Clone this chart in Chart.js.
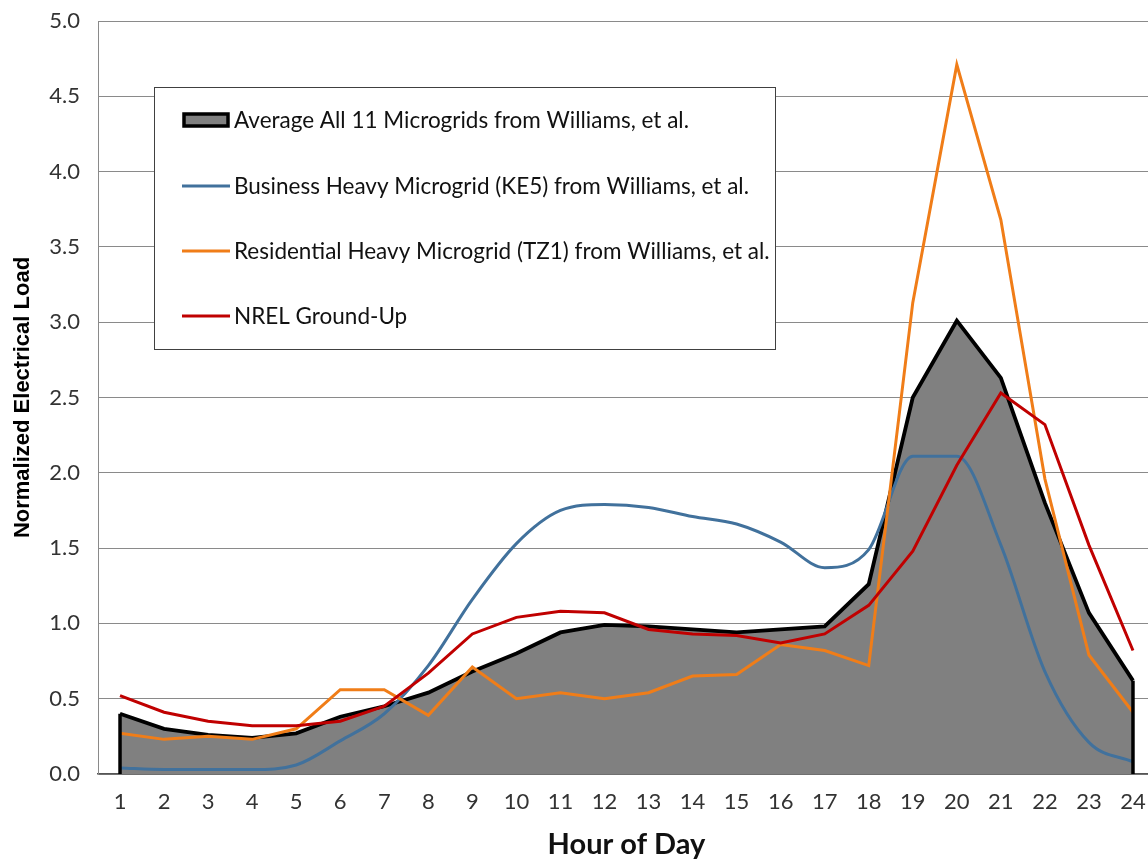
<!DOCTYPE html>
<html>
<head>
<meta charset="utf-8">
<script src="https://cdn.jsdelivr.net/npm/chart.js@4.4.1/dist/chart.umd.min.js"></script>
<style>
html,body{margin:0;padding:0;background:#fff;overflow:hidden;}
canvas{display:block;}
</style>
</head>
<body>
<canvas id="c" width="1156" height="859"></canvas>
<script>
const hours = ["1","2","3","4","5","6","7","8","9","10","11","12","13","14","15","16","17","18","19","20","21","22","23","24"];
const averageAll = [0.40,0.30,0.26,0.24,0.27,0.38,0.45,0.54,0.68,0.80,0.94,0.99,0.98,0.96,0.94,0.96,0.98,1.26,2.50,3.01,2.63,1.80,1.07,0.62];
const businessKE5 = [0.04,0.03,0.03,0.03,0.06,0.22,0.40,0.72,1.16,1.53,1.75,1.79,1.77,1.71,1.66,1.54,1.37,1.49,2.11,2.11,1.52,0.68,0.21,0.08];
const residentialTZ1 = [0.27,0.23,0.25,0.23,0.30,0.56,0.56,0.39,0.71,0.50,0.54,0.50,0.54,0.65,0.66,0.86,0.82,0.72,3.13,4.71,3.68,1.96,0.79,0.41];
const nrelGroundUp = [0.52,0.41,0.35,0.32,0.32,0.35,0.45,0.67,0.93,1.04,1.08,1.07,0.96,0.93,0.92,0.87,0.93,1.12,1.48,2.05,2.53,2.32,1.52,0.82];
const seriesNames = [
  "Average All 11 Microgrids from Williams, et al.",
  "Business Heavy Microgrid (KE5) from Williams, et al.",
  "Residential Heavy Microgrid (TZ1) from Williams, et al.",
  "NREL Ground-Up"
];
const yTicks = [0,0.5,1,1.5,2,2.5,3,3.5,4,4.5,5];

const FONT = "Lato, 'Open Sans', sans-serif";

const areaEdges = {
  id: 'areaEdges',
  afterDatasetsDraw(chart) {
    const meta = chart.getDatasetMeta(0);
    const ctx = chart.ctx;
    const base = chart.scales.y.getPixelForValue(0);
    const pts = meta.data;
    ctx.save();
    ctx.strokeStyle = '#000';
    ctx.lineWidth = 3.5;
    [pts[0], pts[pts.length-1]].forEach(p => {
      ctx.beginPath();
      ctx.moveTo(p.x, p.y);
      ctx.lineTo(p.x, base);
      ctx.stroke();
    });
    ctx.restore();
  }
};

const boxLegend = {
  id: 'boxLegend',
  afterDraw(chart) {
    const ctx = chart.ctx;
    const x0 = 154, y0 = 87, w = 621, h = 262;
    ctx.save();
    ctx.fillStyle = '#fff';
    ctx.fillRect(x0, y0, w, h);
    ctx.strokeStyle = '#404040';
    ctx.lineWidth = 1;
    ctx.strokeRect(x0 + 0.5, y0 + 0.5, w, h);
    const rowsY = [120, 186, 251, 316];
    ctx.font = "22.5px " + FONT;
    ctx.textBaseline = 'middle';
    chart.data.datasets.forEach((ds, i) => {
      const y = rowsY[i];
      if (i === 0) {
        ctx.fillStyle = ds.backgroundColor;
        ctx.fillRect(184, y - 6, 44, 12);
        ctx.strokeStyle = '#000';
        ctx.lineWidth = 3.5;
        ctx.strokeRect(184, y - 6, 44, 12);
      } else {
        ctx.strokeStyle = ds.borderColor;
        ctx.lineWidth = 3;
        ctx.beginPath();
        ctx.moveTo(182, y);
        ctx.lineTo(230, y);
        ctx.stroke();
      }
      ctx.fillStyle = '#111';
      ctx.fillText(ds.label, 234, y + 1);
    });
    ctx.restore();
  }
};

new Chart(document.getElementById('c'), {
  type: 'line',
  data: {
    labels: hours,
    datasets: [
      { label: seriesNames[0], data: averageAll, fill: 'origin', backgroundColor: '#808080', borderColor: '#000', borderWidth: 3.8, pointRadius: 0, tension: 0, order: 4, borderJoinStyle: 'miter' },
      { label: seriesNames[1], data: businessKE5, fill: false, borderColor: '#41719C', borderWidth: 3, pointRadius: 0, cubicInterpolationMode: 'monotone', order: 3 },
      { label: seriesNames[2], data: residentialTZ1, fill: false, borderColor: '#F07D18', borderWidth: 3, pointRadius: 0, tension: 0, order: 2 },
      { label: seriesNames[3], data: nrelGroundUp, fill: false, borderColor: '#C00000', borderWidth: 3, pointRadius: 0, tension: 0, order: 1 }
    ]
  },
  options: {
    responsive: false,
    animation: false,
    devicePixelRatio: 1,
    layout: { padding: { top: 21, left: 0, right: 1, bottom: 0 } },
    plugins: { legend: { display: false }, tooltip: { enabled: false } },
    scales: {
      x: {
        type: 'category',
        offset: true,
        grid: { display: false, drawTicks: false },
        border: { display: true, color: '#555', width: 1.5 },
        ticks: { color: '#333', font: { family: FONT, size: 22 }, padding: 15, maxRotation: 0, autoSkip: false },
        title: { display: true, text: 'Hour of Day', color: '#111', font: { family: FONT, size: 29, weight: 'bold', lineHeight: 1.0 }, padding: { top: 4, bottom: 0 } },
        afterFit: s => { s.height = 85; s.paddingLeft = 0; s.paddingRight = 0; }
      },
      y: {
        min: 0, max: 5,
        afterBuildTicks: s => { s.ticks = yTicks.map(v => ({ value: v })); },
        grid: { color: '#8a8a8a', lineWidth: 1, drawTicks: false },
        border: { display: true, color: '#8a8a8a', width: 1 },
        ticks: { color: '#333', font: { family: FONT, size: 22 }, padding: 18, callback: v => Number(v).toFixed(1) },
        title: { display: true, text: 'Normalized Electrical Load', color: '#000', font: { family: "'Liberation Sans', Arial, sans-serif", size: 22, weight: 'bold' }, padding: { top: 10, bottom: 0 } },
        afterFit: s => { s.width = 98; s.paddingTop = 0; s.paddingBottom = 0; }
      }
    }
  },
  plugins: [areaEdges, boxLegend]
});
</script>
</body>
</html>
